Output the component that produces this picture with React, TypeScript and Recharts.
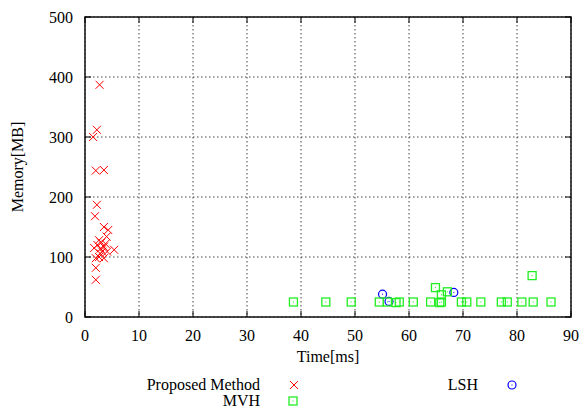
import React from "react";
import { ScatterChart, Scatter, XAxis, YAxis, CartesianGrid, ReferenceArea } from "recharts";

const proposedTime = [2.7, 2.2, 1.5, 2.0, 3.5, 2.2, 1.85, 3.5, 4.3, 4.0, 5.4, 2.6, 2.3, 2.9, 3.5, 3.2, 2.0, 3.5, 2.6, 2.0, 2.0, 4.1, 1.7, 3.0, 3.8, 2.8];
const proposedMemory = [387, 312, 300, 244, 245, 187, 168, 150, 145, 134, 112, 128, 120, 114, 117, 109, 98, 98, 100, 82, 62, 109, 115, 124, 122, 106];

const lshTime = [55.1, 56.3, 68.3];
const lshMemory = [38, 26, 41];

const mvhTime = [38.6, 44.6, 49.3, 54.5, 56.0, 57.6, 58.2, 60.8, 64.0, 65.7, 66.0, 69.7, 70.7, 73.3, 77.1, 78.2, 80.9, 83.0, 86.3, 64.9, 66.0, 67.1, 82.8];
const mvhMemory = [25, 25, 25, 25, 25, 24, 25, 25, 25, 24, 25, 25, 25, 25, 25, 25, 25, 25, 25, 49, 37, 42, 69];

const timeTicks = [0, 10, 20, 30, 40, 50, 60, 70, 80, 90];
const memoryTicks = [0, 100, 200, 300, 400, 500];

const toPoints = (xs: number[], ys: number[]) => xs.map((x, i) => ({ x, y: ys[i] }));

const FONT = "'Liberation Serif', 'DejaVu Serif', serif";
const PLOT_W = 486;
const PLOT_H = 300;
const TICK = 6;

const Cross = ({ cx, cy }: any) => (
  <g stroke="#ff0000" strokeWidth={1}>
    <line x1={cx - 4} y1={cy - 4} x2={cx + 4} y2={cy + 4} />
    <line x1={cx - 4} y1={cy + 4} x2={cx + 4} y2={cy - 4} />
  </g>
);

const Box = ({ cx, cy }: any) => (
  <g>
    <rect x={cx - 4} y={cy - 4} width={8} height={8} fill="none" stroke="#22ee22" strokeWidth={1.3} />
    <rect x={cx - 0.5} y={cy - 0.5} width={1} height={1} fill="#22ee22" />
  </g>
);

const Ring = ({ cx, cy }: any) => (
  <g>
    <circle cx={cx} cy={cy} r={4} fill="none" stroke="#0000ff" strokeWidth={1.2} />
    <rect x={cx - 0.5} y={cy - 0.5} width={1} height={1} fill="#0000ff" />
  </g>
);

const XTick = ({ x, y, payload }: any) => (
  <g>
    <line x1={x} y1={y} x2={x} y2={y - TICK} stroke="#000" strokeWidth={1} />
    <line x1={x} y1={y - PLOT_H} x2={x} y2={y - PLOT_H + TICK} stroke="#000" strokeWidth={1} />
    <text x={x} y={y + 24} textAnchor="middle" fontFamily={FONT} fontSize={16} fill="#000">{payload.value}</text>
  </g>
);

const YTick = ({ x, y, payload }: any) => (
  <g>
    <line x1={x} y1={y} x2={x + TICK} y2={y} stroke="#000" strokeWidth={1} />
    <line x1={x + PLOT_W} y1={y} x2={x + PLOT_W - TICK} y2={y} stroke="#000" strokeWidth={1} />
    <text x={x - 12} y={y + 5.5} textAnchor="end" fontFamily={FONT} fontSize={16} fill="#000">{payload.value}</text>
  </g>
);

export default function App() {
  return (
    <div style={{ position: "absolute", left: 0, top: 0, width: 585, height: 410, background: "#fff" }}>
      <ScatterChart width={585} height={410} margin={{ top: 17, right: 14, left: 0, bottom: 0 }}>
        <CartesianGrid stroke="#444" strokeDasharray="1.5 2.5" />
        <XAxis type="number" dataKey="x" domain={[0, 90]} ticks={timeTicks} height={93} axisLine={false} tickLine={false} tickSize={0} tickMargin={0} tick={<XTick />} interval={0} />
        <YAxis type="number" dataKey="y" domain={[0, 500]} ticks={memoryTicks} width={85} axisLine={false} tickLine={false} tickSize={0} tickMargin={0} tick={<YTick />} interval={0} />
        <ReferenceArea x1={0} x2={90} y1={0} y2={500} fill="none" fillOpacity={0} stroke="#111" strokeWidth={1.5} />
        <Scatter name="Proposed Method" data={toPoints(proposedTime, proposedMemory)} shape={<Cross />} isAnimationActive={false} />
        <Scatter name="LSH" data={toPoints(lshTime, lshMemory)} shape={<Ring />} isAnimationActive={false} />
        <Scatter name="MVH" data={toPoints(mvhTime, mvhMemory)} shape={<Box />} isAnimationActive={false} />
      </ScatterChart>
      <svg width={585} height={410} style={{ position: "absolute", left: 0, top: 0, pointerEvents: "none" }}>
        <g fontFamily={FONT} fontSize={16} fill="#000">
          <text x={328} y={362} textAnchor="middle">Time[ms]</text>
          <text x={0} y={0} textAnchor="middle" transform="translate(23,167) rotate(-90)">Memory[MB]</text>
          <text x={260} y={390} textAnchor="end">Proposed Method</text>
          <text x={260} y={406} textAnchor="end">MVH</text>
          <text x={478} y={390} textAnchor="end">LSH</text>
        </g>
        <Cross cx={294} cy={385} />
        <Box cx={293} cy={401} />
        <Ring cx={512} cy={385} />
      </svg>
    </div>
  );
}
